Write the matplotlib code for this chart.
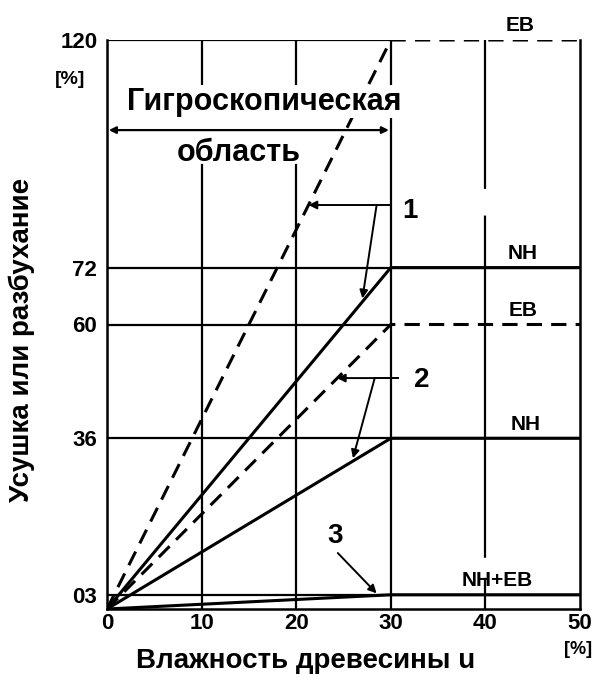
import matplotlib
matplotlib.use("Agg")
import matplotlib.pyplot as plt

plt.rcParams['font.family'] = ['Liberation Sans', 'DejaVu Sans']
plt.rcParams['font.weight'] = 'bold'

# data
fsp = 30                               # fibre saturation point, %
x_max = 50
curve_ids = ['1', '2', '3']
nh_values = [7.2, 3.6, 0.3]            # solid lines (NH)
eb_values = [12.0, 6.0, 0.3]           # dashed lines (EB)
x_ticks = [0, 10, 20, 30, 40, 50]
y_ticks = [0.3, 3.6, 6.0, 7.2, 12.0]
y_tick_labels = ['03', '36', '60', '72', '120']
end_labels = ['NH', 'EB', 'NH', 'EB', 'NH+EB']
end_label_y = [7.2, 12.0, 3.6, 6.0, 0.3]
end_label_x = [43.9, 43.7, 44.2, 44.0, 41.2]

fig = plt.figure(figsize=(5.99, 6.82), dpi=100)
ax = fig.add_axes([107/599, 1-609/682, 473/599, 569/682])
ax.set_xlim(0, x_max)
ax.set_ylim(0, 12)

lw_main = 2.2
lw_grid = 1.6
k = 'black'
dash = (0, (5, 3))

# horizontal lines at the tick levels (solid over the hygroscopic range)
for yv in y_ticks:
    if yv in eb_values[:2]:
        ax.plot([0, fsp], [yv, yv], color=k, lw=lw_grid)
    else:
        ax.plot([0, x_max], [yv, yv], color=k, lw=lw_grid)

# vertical grid lines, broken where the text sits
def y_of(px):
    return (609 - px) / 47.4

for xv in [10, 20]:
    ax.plot([xv, xv], [0, y_of(165)], color=k, lw=lw_grid)
    ax.plot([xv, xv], [y_of(85), 12], color=k, lw=lw_grid)
ax.plot([30, 30], [0, y_of(118)], color=k, lw=lw_grid)
ax.plot([30, 30], [y_of(87), 12], color=k, lw=lw_grid)
ax.plot([40, 40], [12, 0], color=k, lw=lw_grid, linestyle=(0, (67, 12, 154, 9)))

# shrinkage / swelling curves
for nh, eb in zip(nh_values, eb_values):
    ax.plot([0, fsp, x_max], [0, nh, nh], color=k, lw=lw_main)
    if eb != nh:
        ax.plot([0, fsp, x_max], [0, eb, eb], color=k, lw=lw_main, linestyle=dash)

for name, xv, yv in zip(end_labels, end_label_x, end_label_y):
    ax.text(xv, yv + 0.1, name, ha='center', va='bottom', fontsize=15,
            fontweight='bold')

# hygroscopic range
ax.annotate('', xy=(0.2, 10.1), xytext=(29.8, 10.1),
            arrowprops=dict(arrowstyle='<|-|>', color=k, lw=1.6,
                            mutation_scale=10, shrinkA=0, shrinkB=0))
ax.text(16.6, 10.7, 'Гигроскопическая', ha='center', va='center', fontsize=22,
        bbox=dict(facecolor='white', edgecolor='none', pad=1))
ax.text(13.9, 9.62, 'область', ha='center', va='center', fontsize=22)

# numbered pointers
arrow = dict(arrowstyle='-|>', color=k, lw=1.4, mutation_scale=12,
             shrinkA=0, shrinkB=0)
ax.plot([28.5, 30.0], [8.52, 8.52], color=k, lw=1.4)
ax.annotate('', xy=(21.3, 8.52), xytext=(28.5, 8.52), arrowprops=arrow)
ax.annotate('', xy=(27.0, 6.55), xytext=(28.5, 8.52), arrowprops=arrow)
ax.text(32.0, 8.4, curve_ids[0], ha='center', va='center', fontsize=20)

ax.plot([28.3, 30.8], [4.87, 4.87], color=k, lw=1.4)
ax.annotate('', xy=(24.3, 4.87), xytext=(28.3, 4.87), arrowprops=arrow)
ax.annotate('', xy=(26.0, 3.18), xytext=(28.3, 4.87), arrowprops=arrow)
ax.text(33.3, 4.83, curve_ids[1], ha='center', va='center', fontsize=20)

ax.annotate('', xy=(28.5, 0.33), xytext=(24.4, 1.18), arrowprops=arrow)
ax.text(24.1, 1.55, curve_ids[2], ha='center', va='center', fontsize=20)

# axes
ax.set_xticks(x_ticks)
ax.set_xticklabels([str(v) for v in x_ticks], fontsize=16)
ax.set_yticks(y_ticks)
ax.set_yticklabels(y_tick_labels, fontsize=16)
ax.tick_params(axis='x', length=0, pad=3)
ax.tick_params(axis='y', length=0, pad=7)
for side in ['left', 'bottom', 'right']:
    ax.spines[side].set_linewidth(1.8)
ax.spines['top'].set_visible(False)

ax.text(-3.9, 11.16, '[%]', ha='center', va='center', fontsize=14, clip_on=False)
ax.text(49.8, -0.86, '[%]', ha='center', va='center', fontsize=13, clip_on=False)

ax.set_xlabel('Влажность древесины u', fontsize=20, fontweight='bold',
              x=0.42, labelpad=10)
ax.set_ylabel('Усушка или разбухание', fontsize=20, fontweight='bold',
              labelpad=18, y=0.473)

fig.savefig('out.png', dpi=100)
